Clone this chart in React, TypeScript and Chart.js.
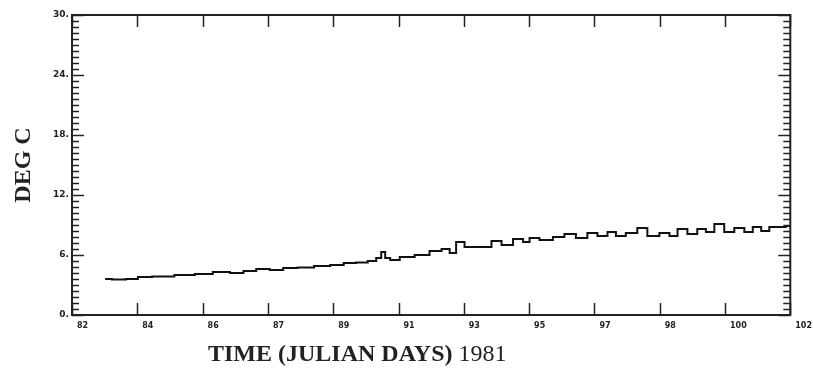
import React, { useEffect, useRef } from "react";
import { Chart, registerables } from "chart.js";

Chart.register(...registerables);

// Julian day (1981) and water temperature (deg C)
const days = [
  82.92, 83.3, 83.7, 83.97, 84.5, 85.2, 85.64, 86.2, 86.6, 86.95, 87.31, 87.7, 88.06,
  88.5, 88.98, 89.4, 89.73, 90.1, 90.37, 90.57, 90.65, 90.79, 90.93, 91.32, 91.76,
  92.15, 92.43, 92.6, 92.79, 93.07, 93.54, 93.82, 94.1, 94.46, 94.66, 94.82, 95.21,
  95.57, 95.85, 96.21, 96.49, 96.77, 97.05, 97.24, 97.6, 97.88, 98.16, 98.55, 98.72,
  99.0, 99.27, 99.55, 99.75, 100.02, 100.3, 100.58, 100.86, 101.05, 101.33, 101.5,
  101.75, 102.0,
];
const temps = [
  3.6, 3.55, 3.6, 3.8, 3.85, 4.0, 4.1, 4.3, 4.2, 4.4, 4.6, 4.5, 4.7,
  4.75, 4.9, 5.0, 5.2, 5.25, 5.4, 5.7, 6.3, 5.7, 5.5, 5.8, 6.0,
  6.4, 6.6, 6.2, 7.3, 6.8, 6.8, 7.4, 7.0, 7.6, 7.3, 7.7, 7.5,
  7.8, 8.1, 7.7, 8.2, 7.9, 8.3, 7.9, 8.2, 8.7, 7.9, 8.2, 7.9,
  8.6, 8.1, 8.6, 8.3, 9.1, 8.3, 8.7, 8.3, 8.8, 8.4, 8.8,
  8.8, 8.9,
];

const xMin = 82;
const xMax = 102;
const xTickLabels = ["82", "84", "86", "87", "89", "91", "93", "95", "97", "98", "100", "102"];
const yTickValues = [0, 6, 12, 18, 24, 30];
const yTickLabels = ["0.", "6.", "12.", "18.", "24.", "30."];
const yMinorStep = 0.6;

const yTitle = "DEG C";
const xTitleMain = "TIME (JULIAN DAYS)";
const xTitleYear = "1981";

const ink = "#222222";

const framePlugin = {
  id: "frameTicks",
  afterDraw(chart: any) {
    const { ctx, chartArea, scales } = chart;
    const { left, right, top, bottom } = chartArea;
    const x = scales.x;
    const y = scales.y;
    ctx.save();
    ctx.strokeStyle = ink;
    ctx.lineWidth = 2;
    ctx.strokeRect(left, top, right - left, bottom - top);
    ctx.lineWidth = 1.5;
    const line = (x1: number, y1: number, x2: number, y2: number) => {
      ctx.beginPath();
      ctx.moveTo(x1, y1);
      ctx.lineTo(x2, y2);
      ctx.stroke();
    };
    x.ticks.forEach((t: any) => {
      const px = Math.round(x.getPixelForValue(t.value)) + 0.5;
      line(px, bottom, px, bottom - 12);
      line(px, top, px, top + 12);
    });
    const n = Math.round((y.max - y.min) / yMinorStep);
    for (let k = 0; k <= n; k++) {
      const v = y.min + k * yMinorStep;
      const py = Math.round(y.getPixelForValue(v)) + 0.5;
      const major = k % 10 === 0;
      const len = major ? 12 : 7;
      line(left, py, left + len, py);
      line(right, py, right - len, py);
    }

    // axis titles
    ctx.fillStyle = ink;
    ctx.textBaseline = "middle";
    ctx.save();
    ctx.translate(24, (top + bottom) / 2);
    ctx.rotate(-Math.PI / 2);
    ctx.textAlign = "center";
    ctx.font = "bold 24px 'Liberation Serif', serif";
    ctx.fillText(yTitle, 0, 0);
    ctx.restore();

    ctx.textAlign = "left";
    ctx.font = "bold 24px 'Liberation Serif', serif";
    const tx = 208;
    const ty = 355;
    ctx.fillText(xTitleMain, tx, ty);
    const w = ctx.measureText(xTitleMain + " ").width;
    ctx.font = "24px 'Liberation Serif', serif";
    ctx.fillText(xTitleYear, tx + w, ty);
    ctx.restore();
  },
};

export default function App() {
  const canvasRef = useRef<HTMLCanvasElement | null>(null);

  useEffect(() => {
    const canvas = canvasRef.current;
    if (!canvas) return;
    const chart = new Chart(canvas, {
      type: "line",
      data: {
        datasets: [
          {
            data: days.map((d, i) => ({ x: d, y: temps[i] })),
            borderColor: "#111111",
            borderWidth: 2,
            pointRadius: 0,
            stepped: "middle",
            fill: false,
          },
        ],
      },
      options: {
        animation: false,
        responsive: false,
        maintainAspectRatio: false,
        layout: { padding: { top: 15, right: 22, left: 0, bottom: 0 } },
        plugins: {
          legend: { display: false },
          tooltip: { enabled: false },
        },
        scales: {
          x: {
            type: "linear",
            min: xMin,
            max: xMax,
            afterBuildTicks: (s: any) => {
              s.ticks = xTickLabels.map((_, i) => ({
                value: xMin + (i * (xMax - xMin)) / (xTickLabels.length - 1),
              }));
            },
            afterFit: (s: any) => {
              s.height = 61;
            },
            grid: { display: false, drawTicks: false },
            border: { display: false },
            ticks: {
              align: "start",
              labelOffset: 5,
              padding: 6,
              autoSkip: false,
              maxRotation: 0,
              color: ink,
              font: { size: 8, weight: "bold", family: "'DejaVu Sans', sans-serif" },
              callback: (_v: any, i: number) => xTickLabels[i],
            },
          },
          y: {
            type: "linear",
            min: 0,
            max: 30,
            afterBuildTicks: (s: any) => {
              s.ticks = yTickValues.map((v) => ({ value: v }));
            },
            afterFit: (s: any) => {
              s.width = 72;
            },
            grid: { display: false, drawTicks: false },
            border: { display: false },
            ticks: {
              padding: 3,
              color: ink,
              font: { size: 9, weight: "bold", family: "'DejaVu Sans', sans-serif" },
              callback: (_v: any, i: number) => yTickLabels[i],
            },
          },
        },
      },
      plugins: [framePlugin],
    } as any);
    return () => chart.destroy();
  }, []);

  return (
    <div style={{ position: "absolute", left: 0, top: 0, width: 813, height: 376, background: "#fff" }}>
      <canvas ref={canvasRef} width={813} height={376} style={{ display: "block" }} />
    </div>
  );
}
